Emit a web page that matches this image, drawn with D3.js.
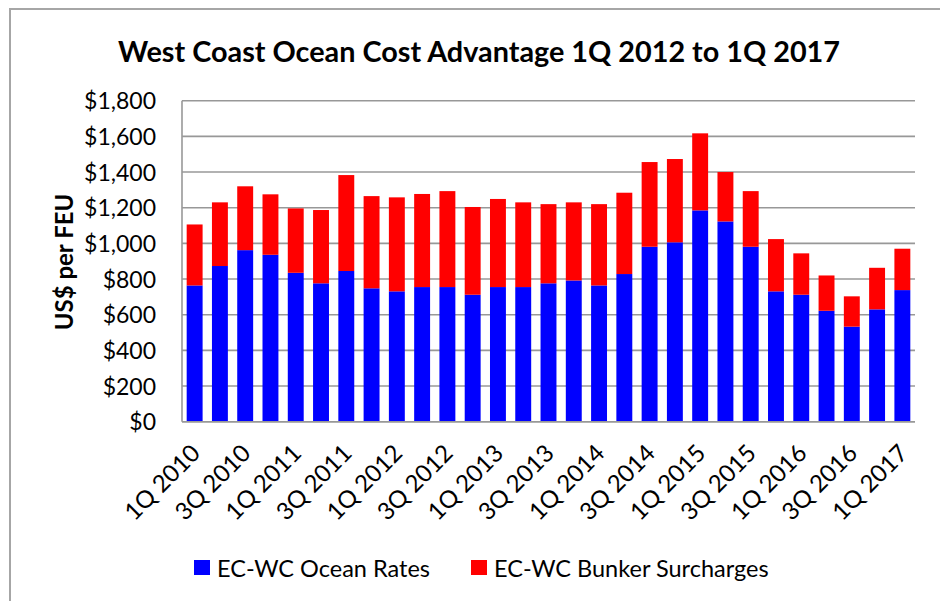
<!DOCTYPE html>
<html><head><meta charset="utf-8">
<script src="https://cdn.jsdelivr.net/npm/d3@7"></script>
<style>body{margin:0;background:#fff}svg{display:block}</style>
</head><body>
<svg id="c" width="940" height="601"></svg>
<script>
const quarters = ["1Q 2010","2Q 2010","3Q 2010","4Q 2010","1Q 2011","2Q 2011","3Q 2011","4Q 2011",
"1Q 2012","2Q 2012","3Q 2012","4Q 2012","1Q 2013","2Q 2013","3Q 2013","4Q 2013",
"1Q 2014","2Q 2014","3Q 2014","4Q 2014","1Q 2015","2Q 2015","3Q 2015","4Q 2015",
"1Q 2016","2Q 2016","3Q 2016","4Q 2016","1Q 2017"];
const oceanRates = [764,873,962,936,835,776,845,748,731,755,755,712,755,755,776,792,764,828,981,1006,1185,1123,981,731,712,622,533,630,738];
const bunkerSurcharges = [342,357,358,339,361,411,538,517,527,522,538,492,494,475,444,438,456,456,475,467,432,277,312,293,232,198,170,233,232];
const yTicks = [0,200,400,600,800,1000,1200,1400,1600,1800];
const seriesNames = ["EC-WC Ocean Rates","EC-WC Bunker Surcharges"];
const colors = ["#0000FF","#FF0000"];
const titleText = "West Coast Ocean Cost Advantage 1Q 2012 to 1Q 2017";
const yTitle = "US$ per FEU";

const font = "Lato, 'Open Sans', sans-serif";
const svg = d3.select("#c");
const L = 182, R = 915, T = 100.7, B = 421.7;

svg.append("rect").attr("x",10).attr("y",9).attr("width",960).attr("height",620)
  .attr("fill","#fff").attr("stroke","#a6a6a6").attr("stroke-width",2);

const x = d3.scaleBand().domain(quarters).range([L,R]).paddingInner(0.37).paddingOuter(0.185);
const y = d3.scaleLinear().domain([0,1800]).range([B,T]);

// gridlines
svg.append("g").selectAll("line").data(yTicks).join("line")
  .attr("x1",L).attr("x2",R).attr("y1",d=>y(d)).attr("y2",d=>y(d))
  .attr("stroke","#989898").attr("stroke-width",1.6);

// y axis labels
const yAxis = d3.axisLeft(y).tickValues(yTicks).tickSize(0).tickPadding(0)
  .tickFormat(d=>"$"+d3.format(",")(d));
const yg = svg.append("g").attr("transform",`translate(156,0)`).call(yAxis);
yg.select(".domain").remove();
yg.selectAll("text").attr("font-family",font).attr("font-size",23).attr("fill","#000").attr("dy","0.35em");

// stacked bars
const data = quarters.map((q,i)=>({q, ocean:oceanRates[i], bunker:bunkerSurcharges[i]}));
const stack = d3.stack().keys(["ocean","bunker"])(data);
svg.append("g").selectAll("g").data(stack).join("g").attr("fill",(d,i)=>colors[i])
  .selectAll("rect").data(d=>d).join("rect")
  .attr("x",d=>x(d.data.q)).attr("width",x.bandwidth())
  .attr("y",d=>y(d[1])).attr("height",d=>y(d[0])-y(d[1]));

// axis lines
svg.append("line").attr("x1",L).attr("x2",L).attr("y1",T).attr("y2",B).attr("stroke","#989898").attr("stroke-width",1.6);
svg.append("line").attr("x1",L).attr("x2",R).attr("y1",B).attr("y2",B).attr("stroke","#989898").attr("stroke-width",1.6);

// x labels
const xAxis = d3.axisBottom(x).tickSize(0).tickFormat((d,i)=> i%2===0 ? d : "");
const xg = svg.append("g").attr("transform",`translate(0,${B})`).call(xAxis);
xg.select(".domain").remove();
xg.selectAll("text").attr("font-family",font).attr("font-size",24).attr("fill","#000")
  .attr("text-anchor","end").attr("dy",null).attr("y",null)
  .attr("transform","translate(7,33) rotate(-45)");

// title
svg.append("text").attr("x",479).attr("y",62).attr("text-anchor","middle")
  .attr("font-family",font).attr("font-weight","bold").attr("font-size",28.8).attr("fill","#000")
  .text(titleText);

// y title
svg.append("text").attr("transform","translate(73,262) rotate(-90)").attr("text-anchor","middle")
  .attr("font-family",font).attr("font-weight","bold").attr("font-size",24).attr("fill","#000")
  .text(yTitle);

// legend
const legX = [194,471];
const lg = svg.append("g").selectAll("g").data(seriesNames).join("g")
  .attr("transform",(d,i)=>`translate(${legX[i]},560)`);
lg.append("rect").attr("width",16).attr("height",15).attr("fill",(d,i)=>colors[i]);
lg.append("text").attr("x",23).attr("y",17).attr("font-family",font).attr("font-size",23.5).attr("fill","#000").text(d=>d);
</script>
</body></html>
